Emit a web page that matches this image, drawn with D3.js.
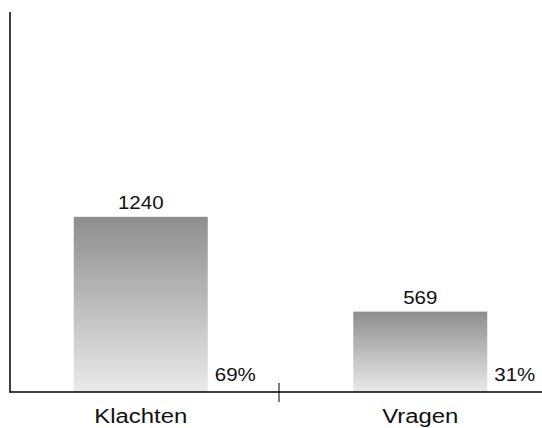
<!DOCTYPE html>
<html>
<head>
<meta charset="utf-8">
<script src="https://cdn.jsdelivr.net/npm/d3@7"></script>
<style>
  html, body { margin: 0; padding: 0; background: #fff; }
  svg { display: block; }
  text { font-family: "Liberation Sans", Arial, Helvetica, sans-serif; fill: #111; }
</style>
</head>
<body>
<script>
// Ticket counts by type
const categories = ["Klachten", "Vragen"];
const counts = [1240, 569];
const shares = ["69%", "31%"];

const W = 542, H = 428;
const stretch = 1.14; // labels are set slightly wide

const svg = d3.select("body").append("svg")
  .attr("width", W).attr("height", H);

const defs = svg.append("defs");
const grad = defs.append("linearGradient")
  .attr("id", "barFill").attr("x1", 0).attr("y1", 0).attr("x2", 0).attr("y2", 1);
grad.append("stop").attr("offset", "0%").attr("stop-color", "#8e8e8e");
grad.append("stop").attr("offset", "100%").attr("stop-color", "#eaeaea");

const x = d3.scaleBand().domain(categories).range([1, 560]).paddingInner(0).paddingOuter(0);
const y = d3.scaleLinear().domain([0, 2690]).range([392, 12]);

const barW = 134;
const bars = categories.map((c, i) => ({ cat: c, v: counts[i], pct: shares[i] }));
const cx = d => x(d.cat) + x.bandwidth() / 2;

svg.selectAll("rect.bar").data(bars).enter().append("rect")
  .attr("class", "bar")
  .attr("x", d => cx(d) - barW / 2)
  .attr("y", d => y(d.v))
  .attr("width", barW)
  .attr("height", d => y(0) - y(d.v))
  .attr("fill", "url(#barFill)");

function stretchedText(sel, fx, fy, anchor, size) {
  return sel.append("text")
    .attr("transform", d => `translate(${fx(d)},${fy(d)}) scale(${stretch},1)`)
    .attr("text-anchor", anchor)
    .attr("font-size", size);
}

// value labels above bars
bars.forEach(d => {
  const g = svg.append("g").datum(d);
  stretchedText(g, cx, b => y(b.v) - 8, "middle", 18).text(b => b.v);
  stretchedText(g, b => cx(b) + barW / 2 + 7, () => y(0) - 11, "start", 18).text(b => b.pct);
  stretchedText(g, cx, () => 423, "middle", 21).text(b => b.cat);
});

// axes
svg.append("line")
  .attr("x1", 10).attr("x2", W).attr("y1", y(0)).attr("y2", y(0))
  .attr("stroke", "#000").attr("stroke-width", 1.5);
svg.append("line")
  .attr("x1", 10).attr("x2", 10).attr("y1", 12).attr("y2", y(0) + 0.75)
  .attr("stroke", "#000").attr("stroke-width", 1.5);

// tick between categories
svg.append("line")
  .attr("x1", x("Vragen") - 1.5).attr("x2", x("Vragen") - 1.5)
  .attr("y1", y(0) - 9).attr("y2", y(0) + 10)
  .attr("stroke", "#000").attr("stroke-width", 1);
</script>
</body>
</html>
